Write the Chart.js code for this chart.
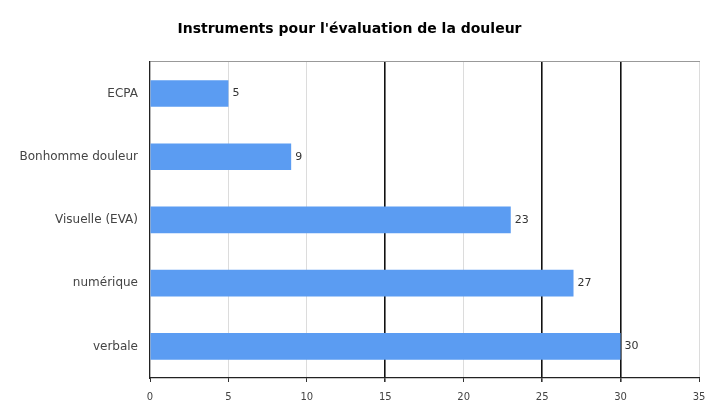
<!DOCTYPE html>
<html>
<head>
<meta charset="utf-8">
<script src="https://cdn.jsdelivr.net/npm/chart.js@4"></script>
<style>
  html,body{margin:0;padding:0;background:#fff;}
  #wrap{width:707px;height:410px;position:relative;}
</style>
</head>
<body>
<div id="wrap"><canvas id="c"></canvas></div>
<script>
// data
const titleText = "Instruments pour l'évaluation de la douleur";
const categories = ['ECPA', 'Bonhomme douleur', 'Visuelle (EVA)', 'numérique', 'verbale'];
const counts = [5, 9, 23, 27, 30];
const xTicks = [0, 5, 10, 15, 20, 25, 30, 35];
const darkLines = [15, 25, 30];   // the vertical lines drawn black in the original

// value next to each bar
const valueLabels = {
  id:'valueLabels',
  afterDatasetsDraw(chart){
    const ctx = chart.ctx;
    const meta = chart.getDatasetMeta(0);
    ctx.save();
    ctx.font = '11px "DejaVu Sans", sans-serif';
    ctx.fillStyle = '#333';
    ctx.textBaseline = 'middle';
    meta.data.forEach((bar,i)=>{
      ctx.fillText(String(counts[i]), bar.x + 4, bar.y);
    });
    ctx.restore();
  }
};

new Chart(document.getElementById('c'), {
  type:'bar',
  data:{
    labels:categories,
    datasets:[{
      data:counts,
      backgroundColor:'#5b9cf2',
      borderWidth:0,
      barPercentage:0.42,
      categoryPercentage:1
    }]
  },
  options:{
    indexAxis:'y',
    responsive:true,
    maintainAspectRatio:false,
    animation:false,
    layout:{padding:{left:0, right:8, top:0, bottom:0}},
    plugins:{
      legend:{display:false},
      tooltip:{enabled:false},
      title:{
        display:true,
        text:titleText,
        color:'#000',
        font:{family:'"DejaVu Sans", sans-serif', size:14, weight:'bold'},
        padding:{top:21, bottom:24}
      }
    },
    scales:{
      x:{
        type:'linear', min:0, max:35,
        afterBuildTicks:s=>{ s.ticks = xTicks.map(v=>({value:v})); },
        afterFit:s=>{ s.height = 32; s.paddingLeft = 0; s.paddingRight = 0; },
        ticks:{color:'#444', font:{family:'"DejaVu Sans", sans-serif', size:10}, padding:9, maxRotation:0},
        grid:{
          color:c=>darkLines.includes(c.tick && c.tick.value) ? '#111' : '#dcdcdc',
          lineWidth:c=>darkLines.includes(c.tick && c.tick.value) ? 1.6 : 1,
          tickLength:4,
          tickColor:'#333'
        },
        border:{color:'#222', width:1.2}
      },
      xTop:{
        type:'linear', position:'top', min:0, max:35,
        ticks:{display:false},
        grid:{display:false},
        border:{color:'#999', width:1},
        afterFit:s=>{ s.height = 0; s.paddingLeft = 0; s.paddingRight = 0; }
      },
      y:{
        afterFit:s=>{ s.width = 150; },
        ticks:{color:'#444', font:{family:'"DejaVu Sans", sans-serif', size:12}, padding:4},
        grid:{display:false},
        border:{color:'#222', width:1.2}
      }
    }
  },
  plugins:[valueLabels]
});
</script>
</body>
</html>
